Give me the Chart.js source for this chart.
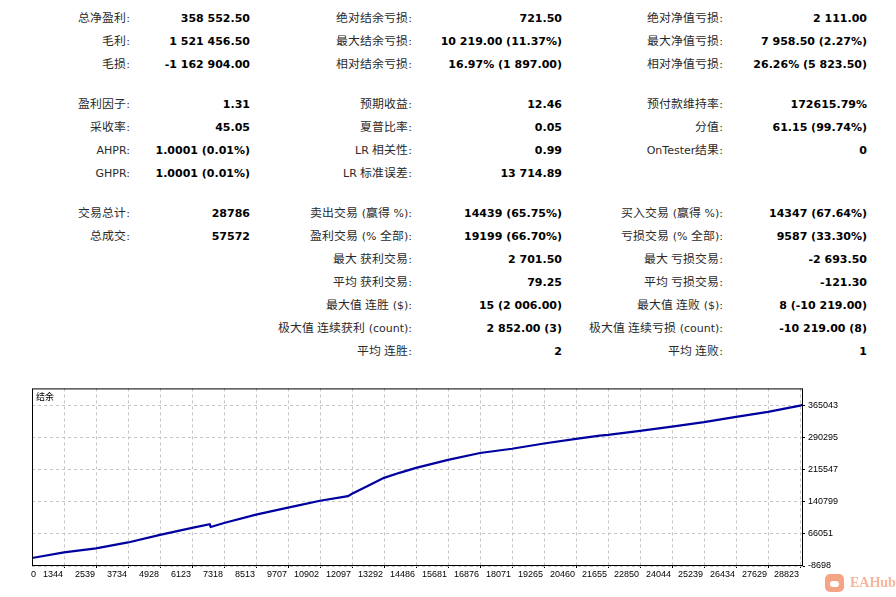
<!DOCTYPE html>
<html>
<head>
<meta charset="utf-8">
<script src="https://cdn.jsdelivr.net/npm/chart.js@4.4.1/dist/chart.umd.min.js"></script>
<style>
@font-face {
  font-family: "CJKx";
  src: local("Noto Sans CJK SC"), local("Noto Sans CJK SC Regular"), local("NotoSansCJKsc-Regular");
  size-adjust: 108%;
  unicode-range: U+2E80-9FFF, U+FF00-FFEF;
}
html, body { margin: 0; padding: 0; background: #fff; }
body { width: 896px; height: 597px; position: relative; overflow: hidden;
       font-family: "DejaVu Sans", "CJKx", "Noto Sans CJK SC", sans-serif; }
.lab, .val { position: absolute; white-space: nowrap; line-height: 14px; height: 14px; text-align: right; }
.lab { font-size: 11px; color: #2a2a2a; }
.val { font-size: 11px; font-weight: bold; color: #000; }
#box { position: absolute; left: 0; top: 380px; width: 896px; height: 217px; }
#mark { position: absolute; left: 825px; top: 574px; height: 19px; }
#mark .pig { position: absolute; left: 0; top: 0; width: 19px; height: 18px; border-radius: 5px; background: #f5a486; }
#mark .pig:after { content: ""; position: absolute; left: 5px; top: 7px; width: 9px; height: 6px; border-radius: 4px; background: #fff; }
#mark .txt { position: absolute; left: 25px; top: 1px; font: bold 14px "Liberation Serif", serif; color: #f7b59b; }
</style>
</head>
<body>
<div id="stats"></div>
<div id="box"><canvas id="balanceChart"></canvas></div>
<div id="mark"><div class="pig"></div><div class="txt">EAHub</div></div>
<script>
// report rows: label, value for each of the three column groups
var statsGroup1 = [
  ['总净盈利:', '358 552.50', '绝对结余亏损:', '721.50', '绝对净值亏损:', '2 111.00'],
  ['毛利:', '1 521 456.50', '最大结余亏损:', '10 219.00 (11.37%)', '最大净值亏损:', '7 958.50 (2.27%)'],
  ['毛损:', '-1 162 904.00', '相对结余亏损:', '16.97% (1 897.00)', '相对净值亏损:', '26.26% (5 823.50)']
];
var statsGroup2 = [
  ['盈利因子:', '1.31', '预期收益:', '12.46', '预付款维持率:', '172615.79%'],
  ['采收率:', '45.05', '夏普比率:', '0.05', '分值:', '61.15 (99.74%)'],
  ['AHPR:', '1.0001 (0.01%)', 'LR 相关性:', '0.99', 'OnTester结果:', '0'],
  ['GHPR:', '1.0001 (0.01%)', 'LR 标准误差:', '13 714.89', '', '']
];
var statsGroup3 = [
  ['交易总计:', '28786', '卖出交易 (赢得 %):', '14439 (65.75%)', '买入交易 (赢得 %):', '14347 (67.64%)'],
  ['总成交:', '57572', '盈利交易 (% 全部):', '19199 (66.70%)', '亏损交易 (% 全部):', '9587 (33.30%)'],
  ['', '', '最大 获利交易:', '2 701.50', '最大 亏损交易:', '-2 693.50'],
  ['', '', '平均 获利交易:', '79.25', '平均 亏损交易:', '-121.30'],
  ['', '', '最大值 连胜 ($):', '15 (2 006.00)', '最大值 连败 ($):', '8 (-10 219.00)'],
  ['', '', '极大值 连续获利 (count):', '2 852.00 (3)', '极大值 连续亏损 (count):', '-10 219.00 (8)'],
  ['', '', '平均 连胜:', '2', '平均 连败:', '1']
];

// balance curve
var xTickLabels = [0, 1344, 2539, 3734, 4928, 6123, 7318, 8513, 9707, 10902, 12097, 13292, 14486,
                   15681, 16876, 18071, 19265, 20460, 21655, 22850, 24044, 25239, 26434, 27629, 28823];
var yTickLabels = [-8698, 66051, 140799, 215547, 290295, 365043];
var tradeNo = [149, 1344, 2539, 3734, 4928, 6123, 6784, 6822, 7318, 8513, 9707, 10144, 10902, 11948,
               12097, 12700, 13292, 13900, 14486, 15681, 16876, 18071, 19265, 20460, 21345, 21655,
               22850, 24044, 25239, 26434, 27629, 28823, 28935];
var balance = [10000, 23100, 32400, 46300, 64000, 80200, 88800, 82500, 91800, 111300, 127500, 133500,
               143800, 154500, 160000, 178600, 197200, 209500, 220400, 239000, 255200, 265200, 277500,
               288400, 296000, 297700, 307000, 317000, 327200, 339500, 351100, 365700, 368550];

// build the text table
var stats = document.getElementById('stats');
var groupRowY = [18, 104, 213];
var labRight = [130, 412, 723];
var valRight = [250, 562, 867];
[statsGroup1, statsGroup2, statsGroup3].forEach(function(group, g) {
  group.forEach(function(row, r) {
    var cy = groupRowY[g] + r * 23;
    for (var c = 0; c < 3; c++) {
      if (row[c * 2]) {
        var l = document.createElement('div');
        l.className = 'lab';
        l.textContent = row[c * 2];
        l.style.right = (896 - labRight[c]) + 'px';
        l.style.top = (cy - 6) + 'px';
        stats.appendChild(l);
      }
      if (row[c * 2 + 1]) {
        var v = document.createElement('div');
        v.className = 'val';
        v.textContent = row[c * 2 + 1];
        v.style.right = (896 - valRight[c]) + 'px';
        v.style.top = (cy - 6) + 'px';
        stats.appendChild(v);
      }
    }
  });
});

// frame + caption inside the plot
var framePlugin = {
  id: 'frame',
  afterDraw: function(chart) {
    var a = chart.chartArea, ctx = chart.ctx;
    ctx.save();
    ctx.setLineDash([]);
    ctx.strokeStyle = '#000';
    ctx.lineWidth = 1;
    ctx.strokeRect(a.left + 0.5, a.top + 0.5, a.right - a.left - 1, a.bottom - a.top - 1);
    ctx.fillStyle = '#000';
    ctx.font = '9px "Noto Sans CJK SC"';
    ctx.textBaseline = 'top';
    ctx.fillText('结余', a.left + 4, a.top + 4);
    ctx.restore();
  }
};

var axisFont = { family: '"Liberation Sans", sans-serif', size: 9 };

var balanceChart = new Chart(document.getElementById('balanceChart'), {
  type: 'line',
  data: {
    datasets: [{
      label: '结余',
      data: tradeNo.map(function(t, i) { return { x: t, y: balance[i] }; }),
      borderColor: '#0000a0',
      borderWidth: 2.2,
      pointRadius: 0,
      tension: 0,
      fill: false
    }]
  },
  options: {
    responsive: true,
    maintainAspectRatio: false,
    animation: false,
    layout: { padding: { left: 32, top: 7, right: 0, bottom: 0 } },
    plugins: {
      legend: { display: false },
      tooltip: { enabled: false }
    },
    scales: {
      x: {
        type: 'linear',
        min: 149,
        max: 28935,
        afterBuildTicks: function(scale) {
          scale.ticks = xTickLabels.map(function(v, i) {
            return { value: i === 0 ? scale.min + 190 : v };
          });
        },
        afterFit: function(scale) { scale.height = 31; },
        border: { display: false, dash: [3, 3] },
        grid: {
          color: function(c) { return c.index === 0 ? 'rgba(0,0,0,0)' : '#c4c4c4'; },
          tickColor: function(c) { return c.index === 0 ? 'rgba(0,0,0,0)' : '#000'; },
          tickLength: 2,
          tickBorderDash: []
        },
        ticks: {
          autoSkip: false,
          maxRotation: 0,
          align: 'end',
          labelOffset: -1,
          padding: 1,
          color: '#000',
          font: axisFont,
          callback: function(v, i) { return String(xTickLabels[i]); }
        }
      },
      y: {
        position: 'right',
        min: -8698,
        max: 406100,
        afterBuildTicks: function(scale) {
          scale.ticks = yTickLabels.map(function(v) { return { value: v }; });
        },
        afterFit: function(scale) { scale.width = 93; },
        border: { display: false, dash: [3, 3] },
        grid: {
          color: '#c4c4c4',
          tickColor: '#000',
          tickLength: 2,
          tickBorderDash: []
        },
        ticks: {
          padding: 3,
          color: '#000',
          font: axisFont,
          callback: function(v) { return String(v); }
        }
      }
    }
  },
  plugins: [framePlugin]
});
</script>
</body>
</html>
